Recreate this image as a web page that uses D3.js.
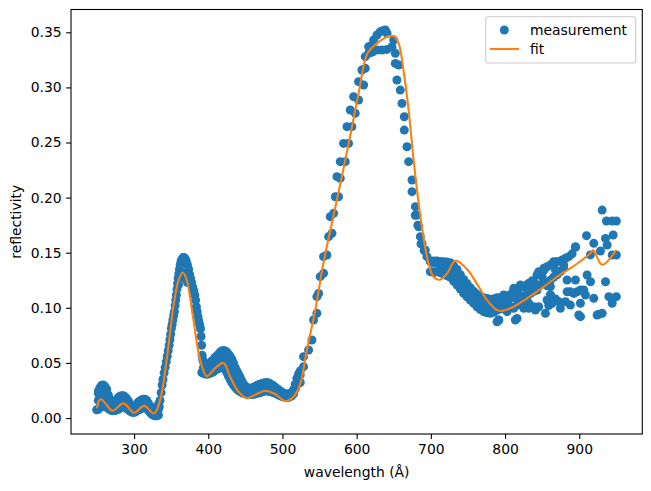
<!DOCTYPE html>
<html>
<head>
<meta charset="utf-8">
<script src="https://cdn.jsdelivr.net/npm/d3@7"></script>
<style>
  body { margin: 0; background: #fff; }
  svg { display: block; font-family: "DejaVu Sans", sans-serif; }
</style>
</head>
<body>
<div id="chart"></div>
<script>
// measurement, dense part (upper and lower edge of the band, plus mid band)
const measDenseUpper = [
  [249.6,0.0074],[251.9,0.0224],[251.9,0.0246],[254.1,0.0276],[256.4,0.0298],[258.6,0.0300],[260.9,0.0285],
  [263.1,0.0261],[265.4,0.0210],[267.6,0.0171],[269.9,0.0140],[272.1,0.0125],[274.4,0.0140],[276.6,0.0165],
  [278.9,0.0186],[281.1,0.0198],[283.4,0.0203],[285.6,0.0201],[287.9,0.0192],[290.1,0.0175],[292.4,0.0155],
  [294.6,0.0125],[296.9,0.0105],[299.1,0.0095],[301.4,0.0105],[303.6,0.0125],[305.9,0.0145],[308.1,0.0155],
  [310.4,0.0165],[312.6,0.0170],[314.8,0.0171],[317.1,0.0160],[319.3,0.0135],[321.6,0.0110],[323.8,0.0085],
  [326.1,0.0070],[328.3,0.0065],[330.6,0.0085],[332.8,0.0125],
  [393.5,0.0510],[395.8,0.0490],[398.0,0.0488],[400.3,0.0490],[402.5,0.0500],
  [404.8,0.0518],[407.0,0.0530],[409.3,0.0550],[411.5,0.0564],[413.8,0.0580],[416.0,0.0598],[418.3,0.0609],
  [420.5,0.0612],[422.8,0.0608],[425.0,0.0600],[427.2,0.0580],[429.5,0.0560],[431.7,0.0534],[434.0,0.0500],
  [436.2,0.0460],[438.5,0.0428],[440.7,0.0400],[443.0,0.0370],[445.2,0.0337],[447.5,0.0310],[449.7,0.0290],
  [452.0,0.0277],[454.2,0.0270],[456.5,0.0270],[458.7,0.0272],[461.0,0.0277],[463.2,0.0285],[465.5,0.0295],
  [467.7,0.0302],[470.0,0.0307],[472.2,0.0313],[474.5,0.0318],[476.7,0.0321],[479.0,0.0322],[481.2,0.0318],
  [483.5,0.0310],[485.7,0.0300],[488.0,0.0292],[490.2,0.0280],[492.5,0.0268],[494.7,0.0256],[497.0,0.0246],
  [499.2,0.0235],[501.5,0.0225],[503.7,0.0220],[506.0,0.0216],[508.2,0.0218],[510.5,0.0224],[512.7,0.0231],
  [515.0,0.0260],[517.2,0.0307],[519.4,0.0360],[521.7,0.0400],[524.0,0.0428]
];
const measDenseLower = [
  [251.9,0.0080],[254.1,0.0096],[256.4,0.0110],[258.6,0.0110],[260.9,0.0105],[263.1,0.0096],[265.4,0.0085],
  [267.6,0.0074],[269.9,0.0068],[272.1,0.0065],[274.4,0.0068],[276.6,0.0074],[278.9,0.0080],[281.1,0.0090],
  [283.4,0.0100],[285.6,0.0110],[287.9,0.0100],[290.1,0.0085],[292.4,0.0074],[294.6,0.0062],[296.9,0.0055],
  [299.1,0.0050],[301.4,0.0055],[303.6,0.0065],[305.9,0.0074],[308.1,0.0080],[310.4,0.0088],[312.6,0.0094],
  [314.8,0.0096],[317.1,0.0088],[319.3,0.0068],[321.6,0.0050],[323.8,0.0035],[326.1,0.0025],[328.3,0.0020],
  [330.6,0.0020],[332.8,0.0026],
  [391.3,0.0413],[393.5,0.0405],[395.8,0.0400],[398.0,0.0398],[400.3,0.0400],[402.5,0.0405],[404.8,0.0413],
  [407.0,0.0420],[409.3,0.0435],[411.5,0.0443],[413.8,0.0450],[416.0,0.0455],[418.3,0.0459],[420.5,0.0455],
  [422.8,0.0440],[425.0,0.0413],[427.2,0.0380],[429.5,0.0350],[431.7,0.0322],[434.0,0.0300],[436.2,0.0280],
  [438.5,0.0262],[440.7,0.0250],[443.0,0.0240],[445.2,0.0232],[447.5,0.0225],[449.7,0.0220],[452.0,0.0216],
  [454.2,0.0213],[456.5,0.0213],[458.7,0.0214],[461.0,0.0216],[463.2,0.0220],[465.5,0.0225],[467.7,0.0228],
  [470.0,0.0232],[472.2,0.0237],[474.5,0.0242],[476.7,0.0245],[479.0,0.0247],[481.2,0.0244],[483.5,0.0240],
  [485.7,0.0236],[488.0,0.0232],[490.2,0.0226],[492.5,0.0218],[494.7,0.0210],[497.0,0.0201],[499.2,0.0196],
  [501.5,0.0192],[503.7,0.0188],[506.0,0.0186],[508.2,0.0188],[510.5,0.0194],[512.7,0.0201],[515.0,0.0220],
  [517.2,0.0262],[519.4,0.0300],[521.7,0.0322],[524.0,0.0322]
];
const measDenseMid = [
  [251.9,0.0160],[254.1,0.0180],[256.4,0.0200],[258.6,0.0205],[260.9,0.0195],[263.1,0.0178],[265.4,0.0150],
  [267.6,0.0120],[278.9,0.0133],[281.1,0.0144],[283.4,0.0152],[285.6,0.0155],[287.9,0.0146],[290.1,0.0130],
  [308.1,0.0120],[310.4,0.0127],[312.6,0.0132],[314.8,0.0133],[317.1,0.0124],[332.8,0.0075],
  [393.5,0.0457],[395.8,0.0445],[398.0,0.0443],[400.3,0.0445],[402.5,0.0452],[404.8,0.0465],
  [407.0,0.0475],[409.3,0.0490],[411.5,0.0503],[413.8,0.0515],[416.0,0.0527],[418.3,0.0534],[420.5,0.0533],
  [422.8,0.0524],[425.0,0.0507],[427.2,0.0480],[429.5,0.0455],[431.7,0.0428],[434.0,0.0400],[436.2,0.0370],
  [438.5,0.0345],[440.7,0.0325],[443.0,0.0305],[445.2,0.0285]
];
// measurement, the steep peak near 366 nm (single line of points, doubled at the top)
const measDenseSteep = [
  [334.0,0.0100],[335.0,0.0160],[336.5,0.0230],[337.8,0.0300],[339.0,0.0350],[340.5,0.0410],[342.0,0.0460],
  [343.4,0.0510],[344.7,0.0560],[346.0,0.0610],[347.3,0.0660],[348.3,0.0710],[349.3,0.0760],[350.3,0.0814],
  [351.3,0.0850],[352.3,0.0890],[353.4,0.0930],[354.4,0.0965],[355.3,0.1020],[356.2,0.1070],[357.0,0.1116],
  [357.8,0.1170],[358.6,0.1220],[359.4,0.1268],[360.3,0.1310],[361.2,0.1350],[362.2,0.1390],[363.3,0.1420],
  [364.5,0.1440],[366.0,0.1456],[367.5,0.1456],[369.0,0.1445],[370.5,0.1420],[372.0,0.1390],[373.5,0.1350],
  [375.0,0.1300],[376.1,0.1270],[377.5,0.1230],[379.0,0.1190],[380.5,0.1155],[381.9,0.1116],[383.0,0.1070],
  [384.0,0.1010],[385.1,0.0965],[386.2,0.0920],[387.3,0.0880],[388.5,0.0845],[389.6,0.0810],[390.3,0.0740],
  [391.0,0.0660],[391.7,0.0570],[392.5,0.0530],
  [360.0,0.1210],[362.0,0.1265],[364.0,0.1300],[366.0,0.1310],[368.0,0.1300],[370.0,0.1270],[372.0,0.1230]
];
// measurement, single points from 500 to 700 nm
const measPeak = [
  [505.9,0.0194],[512.7,0.0224],[519.4,0.0315],[523.9,0.0390],[528.4,0.0466],[528.4,0.0557],[535.2,0.0617],
  [539.7,0.0708],[541.9,0.0889],[546.4,0.0950],[546.4,0.1101],[548.7,0.1131],[550.9,0.1283],[555.4,0.1313],
  [555.4,0.1464],[559.9,0.1479],[562.2,0.1646],[566.7,0.1676],[564.4,0.1827],[568.9,0.1857],[571.2,0.2008],
  [575.6,0.2008],[573.4,0.2190],[577.9,0.2175],[577.9,0.2326],[584.6,0.2326],[582.4,0.2492],[589.1,0.2492],
  [586.9,0.2644],[593.6,0.2644],[591.4,0.2795],[598.1,0.2765],[595.9,0.2916],[602.6,0.2886],[602.6,0.3052],
  [609.4,0.3022],[607.1,0.3158],[611.6,0.3173],[611.6,0.3279],[616.1,0.3309],[616.1,0.3370],[620.6,0.3385],
  [622.9,0.3430],[627.4,0.3476],[631.9,0.3506],[635.0,0.3515],[638.6,0.3521],[640.9,0.3491],[627.4,0.3339],
  [621.0,0.3320],[634.1,0.3339],[640.9,0.3345],[647.6,0.3370],[649.9,0.3430],[652.1,0.3309],[652.1,0.3218],
  [656.6,0.3203],[654.3,0.3067],[658.8,0.2976],[661.1,0.2855],[664.2,0.2734],[664.2,0.2613],[667.8,0.2462],
  [670.1,0.2326],[674.6,0.2160],[674.6,0.2054],[679.1,0.1918],[679.0,0.1840],[681.3,0.1842],[682.5,0.1750],
  [683.6,0.1736],[685.8,0.1646],[686.7,0.1580],[688.1,0.1585],[691.0,0.1520],[692.6,0.1524],[694.8,0.1464],
  [699.3,0.1419],[703.8,0.1404]
];
// measurement, band from 700 to 810 nm
const measTailBand = [
  [699.3,0.1425],[703.8,0.1425],[708.3,0.1425],[712.8,0.1420],[717.3,0.1419],[721.8,0.1415],[726.3,0.1410],
  [730.8,0.1380],[735.3,0.1349],[739.8,0.1300],[744.2,0.1258],[748.7,0.1220],[753.2,0.1183],[757.7,0.1150],
  [762.2,0.1122],[766.7,0.1105],[771.2,0.1092],[775.7,0.1085],[780.2,0.1077],[784.7,0.1080],[789.2,0.1092],
  [793.7,0.1092],[798.2,0.1092],[802.7,0.1100],[807.2,0.1122],
  [699.3,0.1328],[703.8,0.1320],[708.3,0.1328],[712.8,0.1318],[717.3,0.1307],[721.8,0.1290],[726.3,0.1277],
  [730.8,0.1240],[735.3,0.1207],[739.8,0.1170],[744.2,0.1131],[748.7,0.1100],[753.2,0.1071],[757.7,0.1040],
  [762.2,0.1010],[766.7,0.0985],[771.2,0.0965],[775.7,0.0955],[780.2,0.0950],[784.7,0.0960],[789.2,0.0980],
  [793.7,0.0990],[798.2,0.0995],[802.7,0.1000],[807.2,0.1010],[789.2,0.0874],
  [712.8,0.1370],[717.3,0.1363],[721.8,0.1350],[726.3,0.1340],[730.8,0.1310],[735.3,0.1280],[739.8,0.1235],
  [744.2,0.1195],[748.7,0.1160],[753.2,0.1127],[757.7,0.1095],[762.2,0.1066],[766.7,0.1045],[771.2,0.1028],
  [775.7,0.1020],[780.2,0.1013],[784.7,0.1020],[789.2,0.1036],[793.7,0.1040],[798.2,0.1044],[802.7,0.1050]
];
// measurement, scattered points above 790 nm
const measTailCloud = [
  [811.7,0.1150],[816.2,0.1162],[820.7,0.1185],[825.2,0.1192],[829.7,0.1210],[832.0,0.1222],[836.5,0.1245],
  [838.7,0.1237],[843.2,0.1300],[845.4,0.1328],[850.0,0.1283],[852.3,0.1340],[856.7,0.1373],[861.2,0.1390],
  [865.7,0.1404],[870.2,0.1420],[877.0,0.1434],[881.5,0.1450],[885.9,0.1464],[890.4,0.1490],[894.9,0.1549],
  [909.8,0.1655],[919.6,0.1585],[928.6,0.1516],[930.9,0.1887],[935.4,0.1630],[936.7,0.1788],[937.6,0.1570],
  [944.4,0.1788],[944.4,0.1479],[945.7,0.1661],[950.0,0.1788],[950.0,0.1479],
  [816.2,0.1080],[820.7,0.1110],[825.2,0.1060],[829.7,0.1100],[834.2,0.1130],[838.7,0.1150],[843.2,0.1180],
  [847.7,0.1210],[852.2,0.1240],[856.7,0.1200],[861.2,0.1250],[865.7,0.1280],[870.2,0.1300],[874.7,0.1330],
  [879.2,0.1360],[883.7,0.1146],[894.9,0.1252],[897.2,0.1146],[901.7,0.1162],[908.4,0.1116],[915.2,0.1237],
  [919.6,0.1086],[935.4,0.1237],[939.9,0.1101],[944.4,0.1041],[950.0,0.1101],
  [791.5,0.0889],[802.7,0.0965],[811.7,0.0995],[816.2,0.0904],[825.2,0.0995],[832.0,0.0995],[841.0,0.0980],
  [845.4,0.1010],[854.4,0.0950],[858.9,0.1020],[861.2,0.1116],[863.4,0.1041],[868.0,0.1080],[872.4,0.1056],
  [901.7,0.0920],[924.1,0.0935],[926.4,0.0941],[930.9,0.0950],
  [894.9,0.1555],[915.0,0.1480],[879.1,0.1388],[865.6,0.1419],[867.9,0.1343],[852.2,0.1358],[847.7,0.1313],
  [834.2,0.1207],[820.7,0.1207],[811.7,0.1177],[798.2,0.1116],[807.2,0.1086],[829.7,0.1131],[843.2,0.1162],
  [861.1,0.1192],[883.6,0.1252],[910.6,0.1298],[892.6,0.1131],[888.1,0.1146],[906.1,0.1162],[881.4,0.1056],
  [861.1,0.1116],[856.6,0.1071],[838.7,0.1010],[831.9,0.1041],[825.2,0.1010],[816.2,0.1025],[791.4,0.0889],
  [813.9,0.0889],[874.6,0.0995],[888.1,0.1025],[899.4,0.0935],[901.6,0.1041]
];

const fitWavelength = [
  250, 253, 256, 263, 271, 286, 300, 313.5, 327, 335, 344, 353, 360, 365.7, 371, 380, 389, 398, 409, 420.5,
  429.5, 440.7, 452, 463, 476.7, 490, 503.7, 515, 524, 533, 544, 555, 566.7, 580, 591, 602.6, 614.7, 627.4,
  641, 650, 656.6, 663, 670, 676.8, 683.5, 690, 697, 703.7, 712, 721.8, 733, 748.8, 762, 775.8, 789, 797,
  811.7, 829.7, 852, 872, 897, 915, 918.8, 922, 931, 950
];
const fitReflectivity = [
  0.0088, 0.016, 0.017, 0.0118, 0.0066, 0.0133, 0.0048, 0.011, 0.0042, 0.016, 0.053, 0.101, 0.125, 0.132,
  0.125, 0.089, 0.053, 0.038, 0.045, 0.050, 0.0375, 0.024, 0.018, 0.021, 0.0248, 0.0218, 0.0154, 0.0193,
  0.031, 0.062, 0.097, 0.140, 0.177, 0.219, 0.255, 0.2946, 0.331, 0.340, 0.346, 0.3466, 0.340, 0.316, 0.2795,
  0.234, 0.195, 0.1645, 0.140, 0.128, 0.1255, 0.131, 0.1428, 0.135, 0.122, 0.107, 0.098, 0.0972, 0.101,
  0.1085, 0.119, 0.129, 0.140, 0.1495, 0.1525, 0.149, 0.139, 0.1525
];

const xTicks = [300, 400, 500, 600, 700, 800, 900];
const yTicks = [0.00, 0.05, 0.10, 0.15, 0.20, 0.25, 0.30, 0.35];

const W = 651, H = 491;
const mLeft = 71, mRight = 642.3, mTop = 9.5, mBottom = 434;
const fontSize = 13.9;
const blue = "#1f77b4", orange = "#ff7f0e";

const x = d3.scaleLinear().domain([215, 985]).range([mLeft, mRight]);
const y = d3.scaleLinear().domain([-0.0145, 0.3707]).range([mBottom, mTop]);

const svg = d3.select("#chart").append("svg")
  .attr("width", W)
  .attr("height", H);

const measurement = [].concat(measDenseUpper, measDenseLower, measDenseMid, measDenseSteep,
  measPeak, measTailBand, measTailCloud);

svg.append("g")
  .selectAll("circle")
  .data(measurement)
  .join("circle")
    .attr("cx", d => x(d[0]))
    .attr("cy", d => y(d[1]))
    .attr("r", 4.5)
    .attr("fill", blue);

const fitData = fitWavelength.map((w, i) => [w, fitReflectivity[i]]);
const line = d3.line()
  .x(d => x(d[0]))
  .y(d => y(d[1]))
  .curve(d3.curveCatmullRom.alpha(0.5));

svg.append("path")
  .datum(fitData)
  .attr("d", line)
  .attr("fill", "none")
  .attr("stroke", orange)
  .attr("stroke-width", 2.08);

// axes
const xAxis = svg.append("g")
  .attr("transform", `translate(0,${mBottom})`)
  .call(d3.axisBottom(x).tickValues(xTicks).tickFormat(d3.format("d")).tickSize(4.9).tickPadding(5.5));
const yAxis = svg.append("g")
  .attr("transform", `translate(${mLeft},0)`)
  .call(d3.axisLeft(y).tickValues(yTicks).tickFormat(d3.format(".2f")).tickSize(4.9).tickPadding(4.4));

[xAxis, yAxis].forEach(g => {
  g.select(".domain").remove();
  g.attr("font-family", null).attr("font-size", null);
  g.selectAll(".tick line").attr("stroke", "#000").attr("stroke-width", 1.1);
  g.selectAll(".tick text")
    .attr("fill", "#000")
    .style("font-size", fontSize + "px")
    .style("font-family", "'DejaVu Sans', sans-serif");
});

svg.append("rect")
  .attr("x", mLeft).attr("y", mTop)
  .attr("width", mRight - mLeft).attr("height", mBottom - mTop)
  .attr("fill", "none")
  .attr("stroke", "#000")
  .attr("stroke-width", 1.1);

svg.append("text")
  .attr("x", (mLeft + mRight) / 2)
  .attr("y", 477)
  .attr("text-anchor", "middle")
  .style("font-size", fontSize + "px")
  .text("wavelength (Å)");

svg.append("text")
  .attr("transform", `translate(21,${(mTop + mBottom) / 2}) rotate(-90)`)
  .attr("text-anchor", "middle")
  .style("font-size", fontSize + "px")
  .text("reflectivity");

// legend
const legend = svg.append("g");
legend.append("rect")
  .attr("x", 485.7).attr("y", 16.7)
  .attr("width", 150).attr("height", 46.3)
  .attr("rx", 2.5)
  .attr("fill", "#fff").attr("fill-opacity", 0.8)
  .attr("stroke", "#cccccc").attr("stroke-width", 1.1);
legend.append("circle")
  .attr("cx", 504.3).attr("cy", 30)
  .attr("r", 4.5)
  .attr("fill", blue);
legend.append("text")
  .attr("x", 530).attr("y", 34.5)
  .style("font-size", fontSize + "px")
  .text("measurement");
legend.append("line")
  .attr("x1", 490).attr("x2", 519)
  .attr("y1", 49).attr("y2", 49)
  .attr("stroke", orange).attr("stroke-width", 2.08);
legend.append("text")
  .attr("x", 530).attr("y", 54)
  .style("font-size", fontSize + "px")
  .text("fit");
</script>
</body>
</html>
